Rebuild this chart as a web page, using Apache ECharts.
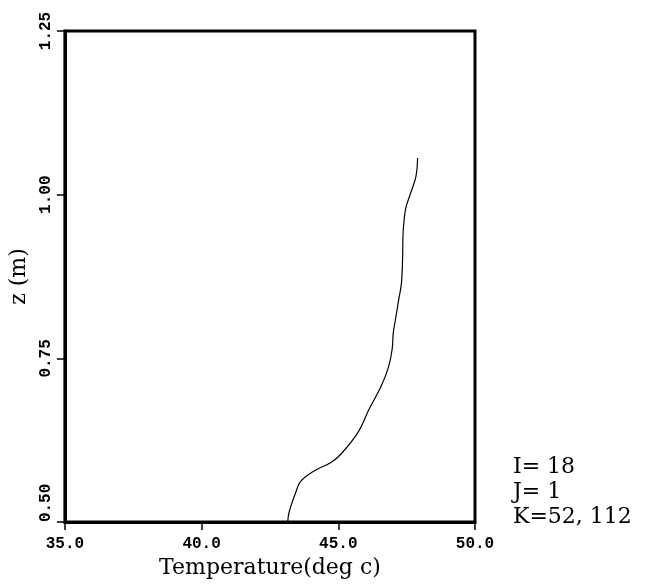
<!DOCTYPE html>
<html>
<head>
<meta charset="utf-8">
<script src="https://cdn.jsdelivr.net/npm/echarts@6/dist/echarts.min.js"></script>
<style>html,body{margin:0;padding:0;background:#fff;}#c{width:650px;height:584px;}</style>
</head>
<body>
<div id="c"></div>
<script>
// Data
const temperature = [43.15, 43.20, 43.45, 43.63, 44.11, 44.73, 45.10, 45.72, 46.12, 46.56, 46.83, 46.97, 47.01, 47.09, 47.21, 47.31, 47.35, 47.37, 47.41, 47.47, 47.65, 47.84, 47.90];
const zValues     = [0.500, 0.515, 0.546, 0.5625, 0.578, 0.591, 0.604, 0.637, 0.672, 0.707, 0.736, 0.764, 0.789, 0.809, 0.840, 0.865, 0.901, 0.942, 0.962, 0.980, 1.003, 1.028, 1.056];
const xTicks = [35, 40, 45, 50];
const yTicks = [0.50, 0.75, 1.00, 1.25];
const infoLines = ['I= 18', 'J= 1', 'K=52, 112'];

const chart = echarts.init(document.getElementById('c'), null, {renderer: 'canvas'});
const serif = 'DejaVu Serif';
const tickFont = 'Liberation Mono';
const points = temperature.map((t, i) => [t, zValues[i]]);

chart.setOption({
  animation: false,
  backgroundColor: '#ffffff',
  grid: {left: 64, top: 31, width: 411, height: 492, show: true, borderColor: '#000', borderWidth: 3, backgroundColor: 'transparent'},
  xAxis: {
    type: 'value', min: xTicks[0], max: xTicks[xTicks.length - 1], interval: 5,
    name: 'Temperature(deg c)', nameLocation: 'middle', nameGap: 33,
    nameTextStyle: {fontFamily: serif, fontSize: 22, color: '#000'},
    axisLine: {show: true, lineStyle: {color: '#000', width: 3}},
    axisTick: {show: true, inside: false, length: 8, lineStyle: {color: '#000', width: 1.5}},
    axisLabel: {margin: 14, fontFamily: tickFont, fontWeight: 'bold', fontSize: 16, color: '#000', formatter: v => v.toFixed(1)},
    splitLine: {show: false}
  },
  yAxis: {
    type: 'value', min: yTicks[0], max: yTicks[yTicks.length - 1], interval: 0.25,
    name: 'z (m)', nameLocation: 'middle', nameGap: 31,
    nameTextStyle: {fontFamily: serif, fontSize: 22, color: '#000'},
    axisLine: {show: true, lineStyle: {color: '#000', width: 3}},
    axisTick: {show: true, inside: false, length: 8, lineStyle: {color: '#000', width: 1.5}},
    axisLabel: {rotate: 90, margin: 11, fontFamily: tickFont, fontWeight: 'bold', fontSize: 16, color: '#000',
      alignMinLabel: 'left', formatter: v => v.toFixed(2)},
    splitLine: {show: false}
  },
  graphic: infoLines.map((s, i) => ({
    type: 'text', left: 513, top: 456 + i * 25,
    style: {text: s, fontFamily: serif, fontSize: 22, fill: '#000'}
  })),
  series: [{
    type: 'line', data: points, smooth: 0.4, showSymbol: false, symbol: 'none',
    lineStyle: {color: '#000', width: 1.2}, z: 3
  }]
});
</script>
</body>
</html>
